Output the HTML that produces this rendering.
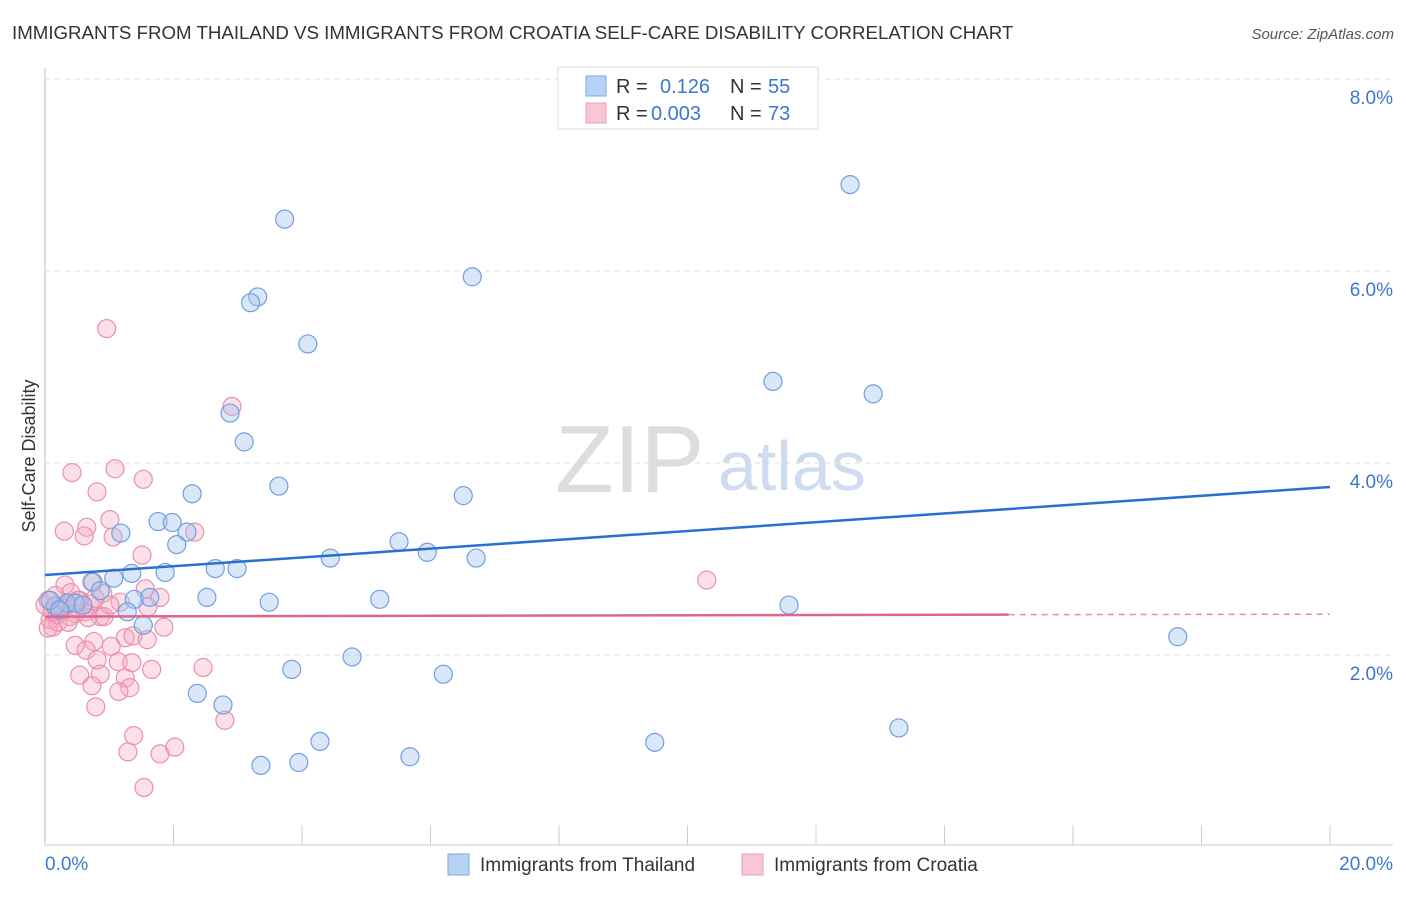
<!DOCTYPE html>
<html><head><meta charset="utf-8"><style>
body{margin:0;background:#fff;font-family:"Liberation Sans",sans-serif}
svg text{font-family:"Liberation Sans",sans-serif}
</style></head><body>
<svg id="c" width="1406" height="892">
<text x="12" y="39" font-size="18.7" fill="#333">IMMIGRANTS FROM THAILAND VS IMMIGRANTS FROM CROATIA SELF-CARE DISABILITY CORRELATION CHART</text>
<text x="1394" y="39" font-size="15" fill="#555" font-style="italic" text-anchor="end">Source: ZipAtlas.com</text>
<text x="35" y="456" font-size="18" fill="#333" text-anchor="middle" transform="rotate(-90 35 456)">Self-Care Disability</text>
<text x="555" y="492" font-size="96" fill="#ddd" font-family="Liberation Serif">ZIP</text>
<text x="718" y="490" font-size="70" fill="#cfdcf0">atlas</text>
<g id="grid"></g><g id="pts"></g><g id="lines"></g>
<g>
<rect x="558" y="67" width="260" height="62" fill="#fff" stroke="#ddd"/>
<rect x="586" y="76" width="20" height="20" fill="#b8d2f5" stroke="#7ea7e0"/>
<rect x="586" y="103" width="20" height="20" fill="#f9c6d6" stroke="#eba0b8"/>
<text x="616" y="93" font-size="20" fill="#333">R = </text><text x="660" y="93" font-size="20" fill="#3a78d0">0.126</text>
<text x="730" y="93" font-size="20" fill="#333">N = </text><text x="768" y="93" font-size="20" fill="#3a78d0">55</text>
<text x="616" y="120" font-size="20" fill="#333">R = </text><text x="651" y="120" font-size="20" fill="#3a78d0">0.003</text>
<text x="730" y="120" font-size="20" fill="#333">N = </text><text x="768" y="120" font-size="20" fill="#3a78d0">73</text>
</g>
<g>
<rect x="448" y="854" width="21" height="21" fill="#b8d2f5" stroke="#7ea7e0"/>
<text x="480" y="871" font-size="19" fill="#333">Immigrants from Thailand</text>
<rect x="742" y="854" width="21" height="21" fill="#f9c6d6" stroke="#eba0b8"/>
<text x="774" y="871" font-size="19" fill="#333">Immigrants from Croatia</text>
</g>
</svg>
<script>
const yTicks=[2,4,6,8];
const yTickLabels=["2.0%","4.0%","6.0%","8.0%"];
const xTickLabels=["0.0%","20.0%"];
const thX=[3.73,12.53,6.65,3.31,3.20,4.09,11.33,12.89,2.88,3.10,2.29,3.64,6.51,1.18,1.76,1.98,2.21,2.05,5.51,5.95,6.71,4.44,2.65,2.99,1.87,1.35,1.07,0.73,0.86,2.52,3.49,5.21,1.39,1.63,11.58,1.28,0.34,0.47,0.16,1.53,17.63,4.78,3.84,6.20,2.37,2.77,13.29,4.28,9.49,3.36,3.95,5.68,0.08,0.23,0.59];
const thY=[6.54,6.90,5.94,5.73,5.67,5.24,4.85,4.72,4.52,4.22,3.68,3.76,3.66,3.27,3.39,3.38,3.28,3.15,3.18,3.07,3.01,3.01,2.90,2.90,2.86,2.85,2.80,2.76,2.67,2.60,2.55,2.58,2.58,2.60,2.52,2.45,2.54,2.54,2.51,2.31,2.19,1.98,1.85,1.80,1.60,1.48,1.24,1.10,1.09,0.85,0.88,0.94,2.57,2.47,2.52];
const crX=[0.96,2.91,0.42,1.09,1.53,0.81,1.01,0.65,0.30,0.61,1.06,2.33,1.51,10.30,0.75,0.31,1.56,0.90,1.79,0.40,0.16,0.05,0.54,1.17,1.60,0.70,0.23,0.86,0.39,0.08,0.12,1.25,1.37,1.59,1.85,0.47,0.76,0.64,1.03,0.81,1.14,1.35,1.66,0.54,0.86,1.25,0.73,1.32,1.15,2.46,0.79,2.80,1.38,1.29,1.79,2.02,1.54,0.26,0.19,0.33,0.00,0.11,0.47,0.62,0.92,0.20,0.36,0.05,1.01,0.67,0.51,0.78];
const crY=[5.40,4.59,3.90,3.94,3.83,3.70,3.41,3.33,3.29,3.24,3.23,3.28,3.04,2.78,2.76,2.73,2.69,2.64,2.60,2.65,2.62,2.57,2.57,2.55,2.50,2.53,2.45,2.40,2.40,2.37,2.29,2.18,2.20,2.16,2.29,2.10,2.14,2.05,2.09,1.95,1.93,1.92,1.85,1.79,1.80,1.76,1.68,1.66,1.62,1.87,1.46,1.32,1.16,0.99,0.97,1.04,0.62,2.49,2.42,2.52,2.52,2.45,2.43,2.45,2.40,2.34,2.34,2.28,2.52,2.39,2.57,2.59];
const thLine=[[0,2.833],[20,3.75]];
const crLine=[[0,2.40],[15,2.42],[20,2.425]];
const X=v=>45+v/20*1285, Y=v=>847-v*96;
const NS="http://www.w3.org/2000/svg";
function mk(t,a,p){const e=document.createElementNS(NS,t);for(const k in a)e.setAttribute(k,a[k]);p.appendChild(e);return e;}
const g=document.getElementById('grid');
const ax=mk('line',{x1:45,y1:68,x2:45,y2:845,stroke:'#bbb'},g);


const bx=mk('line',{x1:45,y1:845,x2:1393,y2:845,stroke:'#ccc'},g);


yTicks.forEach((t,i)=>{
 const l=mk('line',{x1:45,y1:Y(t),x2:1393,y2:Y(t),stroke:'#ddd','stroke-dasharray':'5,5'},g);
 
 
 const tx=mk('text',{x:1393,y:Y(t)+25,'font-size':19,fill:'#3a78d0','text-anchor':'end'},g);
 tx.textContent=yTickLabels[i];
 
 
});
for(let i=1;i<=10;i++){
 const l=mk('line',{x1:X(i*2),y1:825,x2:X(i*2),y2:845,stroke:'#ccc'},g);
 
 
}
[[0,'start',45],[20,'end',1393]].forEach((d,i)=>{
 const tx=mk('text',{x:d[2],y:870,'font-size':19,fill:'#3a78d0','text-anchor':d[1]},g);
 tx.textContent=xTickLabels[i];
 
 
});
const p=document.getElementById('pts');
crX.forEach((v,i)=>{
 const c=mk('circle',{cx:X(v),cy:Y(crY[i]),r:9,fill:'rgba(245,165,192,0.35)',stroke:'#ea8fae','stroke-width':1.2},p);
 
 
});
thX.forEach((v,i)=>{
 const c=mk('circle',{cx:X(v),cy:Y(thY[i]),r:9,fill:'rgba(160,195,240,0.4)',stroke:'#6f9fe0','stroke-width':1.2},p);
 
 
});
const L=document.getElementById('lines');
const b=mk('line',{x1:X(thLine[0][0]),y1:Y(thLine[0][1]),x2:X(thLine[1][0]),y2:Y(thLine[1][1]),stroke:'#2a6fd0','stroke-width':2.5},L);


const r1=mk('line',{x1:X(crLine[0][0]),y1:Y(crLine[0][1]),x2:X(crLine[1][0]),y2:Y(crLine[1][1]),stroke:'#e0658d','stroke-width':2.5},L);


const r2=mk('line',{x1:X(crLine[1][0]),y1:Y(crLine[1][1]),x2:X(crLine[2][0]),y2:Y(crLine[2][1]),stroke:'#e98aa8','stroke-width':1.5,'stroke-dasharray':'6,5'},L);


</script>
</body></html>
